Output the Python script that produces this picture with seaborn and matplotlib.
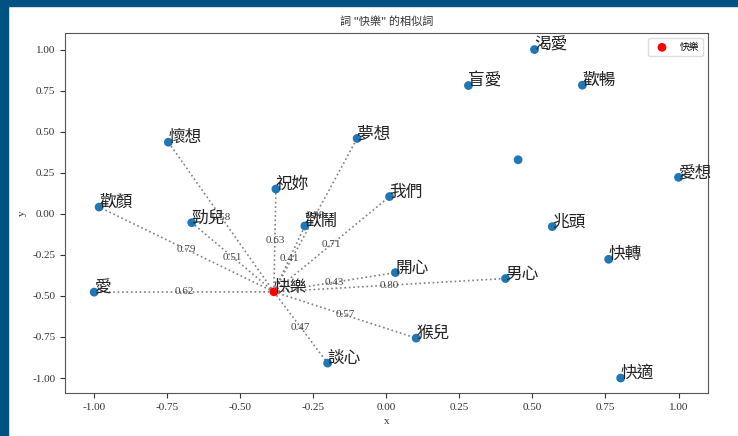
import matplotlib
matplotlib.use("Agg")
import matplotlib.pyplot as plt
from matplotlib.patches import Rectangle
import seaborn as sns
import pandas as pd

# 2-D word-vector projection
words = ["愛", "歡顏", "懷想", "勁兒", "祝妳", "歡鬧", "夢想", "我們", "開心", "男心",
         "猴兒", "談心", "渴愛", "盲愛", "歡暢", "", "愛想", "兆頭", "快轉", "快適"]
xs = [-1.00, -0.983, -0.746, -0.666, -0.378, -0.279, -0.100, 0.011, 0.031, 0.408,
      0.102, -0.201, 0.507, 0.281, 0.671, 0.451, 1.00, 0.568, 0.761, 0.802]
ys = [-0.477, 0.041, 0.436, -0.054, 0.151, -0.074, 0.459, 0.105, -0.358, -0.394,
      -0.757, -0.909, 1.00, 0.781, 0.783, 0.329, 0.222, -0.078, -0.277, -1.00]

center_word = "快樂"
center_x = -0.385
center_y = -0.475

# similarity of the linked neighbours to the centre word
linked_words = ["愛", "歡顏", "懷想", "勁兒", "祝妳", "歡鬧", "夢想", "我們", "開心",
                "男心", "猴兒", "談心"]
similarity = [0.62, 0.79, 0.58, 0.51, 0.63, 0.41, 0.98, 0.71, 0.43, 0.80, 0.57, 0.47]

df = pd.DataFrame({"x": xs, "y": ys, "word": words})
center_df = pd.DataFrame({"x": [center_x], "y": [center_y], "word": [center_word]})

cjk = ["Noto Sans CJK TC", "DejaVu Sans"]
serif = ["Liberation Serif", "DejaVu Serif"]
plt.rcParams["font.family"] = serif

fig, ax = plt.subplots(figsize=(7.38, 4.36), dpi=100)
fig.subplots_adjust(left=0.088, right=0.959, top=0.924, bottom=0.099)

# dotted links from the centre word with similarity values at the midpoints
pos = dict(zip(words, zip(xs, ys)))
for w, s in zip(linked_words, similarity):
    px, py = pos[w]
    ax.plot([center_x, px], [center_y, py], linestyle=":", color="gray", linewidth=1.2, zorder=1)
    ax.text((center_x + px) / 2, (center_y + py) / 2, f"{s:.2f}", fontsize=8,
            color="#444444", ha="center", va="center", family=serif, zorder=2)

sns.scatterplot(data=df, x="x", y="y", color="#1f77b4", s=40, edgecolor="none",
                ax=ax, zorder=3, legend=False)
sns.scatterplot(data=center_df, x="x", y="y", color="red", s=40, edgecolor="none",
                ax=ax, zorder=4, label=center_word)

for _, r in pd.concat([df, center_df]).iterrows():
    if r["word"]:
        ax.text(r["x"], r["y"], r["word"], fontsize=12, color="#222222", family=cjk, zorder=5)

ax.set_xlim(-1.1, 1.1)
ax.set_ylim(-1.09, 1.10)
ax.set_xticks([-1.0, -0.75, -0.5, -0.25, 0.0, 0.25, 0.5, 0.75, 1.0])
ax.set_yticks([-1.0, -0.75, -0.5, -0.25, 0.0, 0.25, 0.5, 0.75, 1.0])
ax.xaxis.set_major_formatter(matplotlib.ticker.FormatStrFormatter("%.2f"))
ax.yaxis.set_major_formatter(matplotlib.ticker.FormatStrFormatter("%.2f"))
ax.tick_params(labelsize=8, colors="#333333")
ax.set_xlabel("x", fontsize=8, color="#333333")
ax.set_ylabel("y", fontsize=8, color="#333333")
for sp in ax.spines.values():
    sp.set_color("#555555")
ax.set_title('詞 "快樂" 的相似詞', fontsize=8, family=cjk, color="#333333")
leg = ax.legend(loc="upper right", prop={"family": cjk, "size": 7}, framealpha=1,
                edgecolor="#dddddd")

# page border bands
fig.patches.append(Rectangle((0, 0), 8 / 738, 1, transform=fig.transFigure,
                             color="#005282", zorder=0))
fig.patches.append(Rectangle((0, 1 - 6 / 436), 1, 6 / 436, transform=fig.transFigure,
                             color="#005282", zorder=0))

fig.savefig("out.png", dpi=100)
